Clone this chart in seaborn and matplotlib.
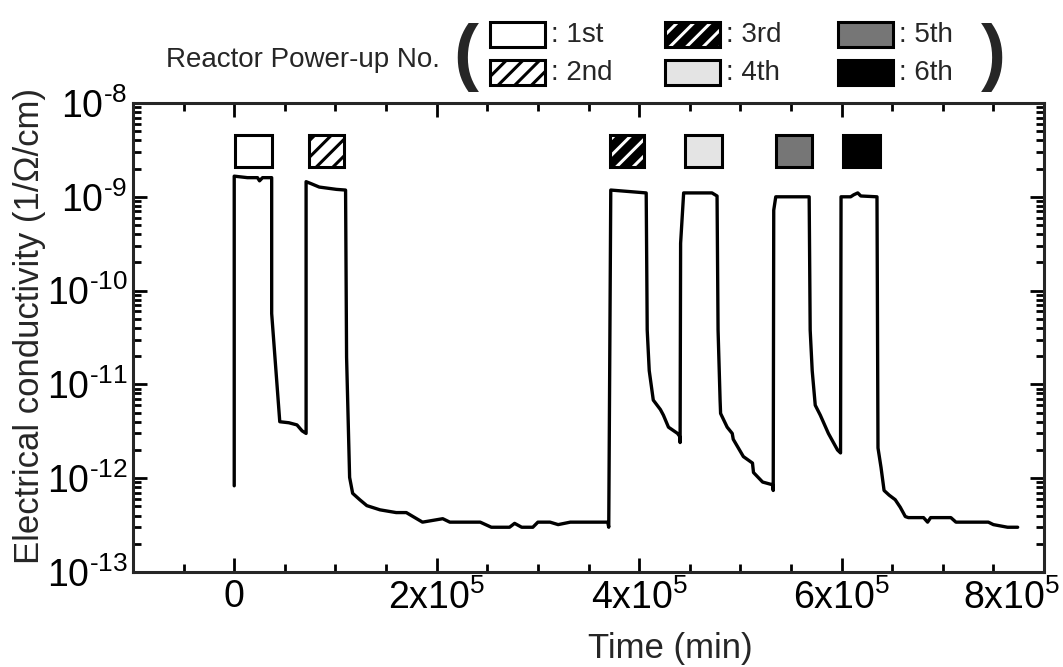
import numpy as np
import pandas as pd
import seaborn as sns
import matplotlib
matplotlib.use("Agg")
import matplotlib.pyplot as plt
import matplotlib.transforms as mtrans
from matplotlib.patches import Rectangle
from matplotlib.ticker import MultipleLocator, LogLocator, NullFormatter

# Conductivity trace (time in min, sigma in 1/Ohm/cm)
time_min = [
    # 1st power-up
    0, 0, 13000, 23000, 25000, 28000, 37000, 37000, 45000, 54000, 62000, 67000, 71000,
    # 2nd power-up and long shutdown
    71000, 76000, 84000, 101000, 110000, 111000, 114000, 117000, 124000, 131000, 144000,
    160000, 170000, 186000, 206000, 213000, 243000, 254000, 272000, 277000, 284000,
    295000, 300000, 312000, 320000, 332000, 369000, 370000,
    # 3rd
    372000, 407000, 408000, 410000, 414000, 421000, 424000, 429000, 438000, 440000, 440500,
    # 4th
    441000, 444000, 472000, 477000, 478000, 480000, 480500, 487000, 492000, 493000,
    503000, 512000, 513000, 522000, 532000, 532500,
    # 5th
    533000, 535000, 568000, 569000, 571000, 574000, 579000, 587000, 596000, 599000,
    # 6th and final shutdown
    599500, 609000, 612000, 616000, 619000, 635000, 636000, 639000, 642000, 647000,
    653000, 658000, 663000, 666000, 681000, 685000, 688000, 708000, 713000, 745000,
    750000, 764000, 774000,
]
sigma = [
    8.3e-13, 1.66e-9, 1.6e-9, 1.6e-9, 1.48e-9, 1.6e-9, 1.6e-9, 5.7e-11, 4.0e-12, 3.9e-12,
    3.7e-12, 3.2e-12, 3.0e-12,
    1.45e-9, 1.38e-9, 1.27e-9, 1.2e-9, 1.18e-9, 1.95e-11, 1.02e-12, 6.9e-13, 5.9e-13,
    5.1e-13, 4.6e-13, 4.3e-13, 4.3e-13, 3.4e-13, 3.7e-13, 3.4e-13, 3.4e-13, 3.0e-13,
    3.0e-13, 3.3e-13, 3.0e-13, 3.0e-13, 3.4e-13, 3.4e-13, 3.2e-13, 3.4e-13, 3.4e-13, 3.0e-13,
    1.18e-9, 1.1e-9, 3.8e-11, 1.4e-11, 6.8e-12, 5.4e-12, 4.7e-12, 3.5e-12, 3.0e-12, 2.8e-12, 2.4e-12,
    3.2e-10, 1.1e-9, 1.1e-9, 1.02e-9, 3.8e-11, 6.8e-12, 4.9e-12, 3.5e-12, 3.0e-12, 2.6e-12,
    1.7e-12, 1.45e-12, 1.15e-12, 9.1e-13, 8.5e-13, 7.4e-13,
    7.2e-10, 1.0e-9, 1.0e-9, 3.8e-11, 1.4e-11, 6.0e-12, 4.7e-12, 3.0e-12, 2.0e-12, 1.86e-12,
    1.0e-9, 1.0e-9, 1.05e-9, 1.1e-9, 1.02e-9, 1.0e-9, 2.1e-12, 1.3e-12, 7.4e-13, 6.6e-13,
    5.9e-13, 4.9e-13, 3.9e-13, 3.8e-13, 3.8e-13, 3.4e-13, 3.8e-13, 3.8e-13, 3.4e-13, 3.4e-13,
    3.2e-13, 3.0e-13, 3.0e-13,
]

# Reactor power-up periods (min)
powerup_labels = ['1st', '2nd', '3rd', '4th', '5th', '6th']
powerup_on = [1000, 74000, 371000, 445000, 535000, 601000]
powerup_off = [37000, 108000, 405000, 482000, 571000, 638000]

x_ticks = [0, 2e5, 4e5, 6e5, 8e5]
x_ticklabels = ['0', '2x10$^{5}$', '4x10$^{5}$', '6x10$^{5}$', '8x10$^{5}$']
y_ticks = [1e-13, 1e-12, 1e-11, 1e-10, 1e-9, 1e-8]
y_ticklabels = ['10$^{\u2010%d}$' % n for n in [13, 12, 11, 10, 9, 8]]

# box styles: (face, hatch, hatch colour)
box_styles = [
    ('white', '', 'black'),
    ('white', '//', 'black'),
    ('black', '//', 'white'),
    ('#e4e4e4', '', 'black'),
    ('#767676', '', 'black'),
    ('black', '', 'black'),
]

sns.set_theme(style='ticks')
plt.rcParams['font.family'] = ['Liberation Sans', 'DejaVu Sans']
plt.rcParams['mathtext.fontset'] = 'custom'
plt.rcParams['mathtext.rm'] = 'Liberation Sans'
plt.rcParams['mathtext.it'] = 'Liberation Sans:italic'
plt.rcParams['hatch.linewidth'] = 2.2
plt.rcParams['axes.linewidth'] = 2.2

W, H = 1063, 667
fig = plt.figure(figsize=(W / 100, H / 100), dpi=100)
ax = fig.add_axes([133 / W, 1 - 572 / H, (1044 - 133) / W, (572 - 103) / H])

df = pd.DataFrame({'time': time_min, 'sigma': sigma})
sns.lineplot(data=df, x='time', y='sigma', sort=False, estimator=None,
             color='black', lw=2.4, ax=ax)

ax.set_yscale('log')
ax.set_xlim(-1e5, 8e5)
ax.set_ylim(1e-13, 1e-8)

# power-up marker boxes
box_lo, box_hi = 2.1e-9, 4.6e-9
for on, off, (fc, hatch, hc) in zip(powerup_on, powerup_off, box_styles):
    ax.bar(on, box_hi - box_lo, width=off - on, bottom=box_lo, align='edge',
           color=fc, hatch=hatch, edgecolor=hc, linewidth=0, zorder=3)
    ax.bar(on, box_hi - box_lo, width=off - on, bottom=box_lo, align='edge',
           fill=False, edgecolor='black', linewidth=2.2, zorder=4)

ax.set_xticks(x_ticks)
ax.set_xticklabels(x_ticklabels)
ax.xaxis.set_minor_locator(MultipleLocator(5e4))
ax.set_yticks(y_ticks)
ax.set_yticklabels(y_ticklabels)
ax.yaxis.set_minor_locator(LogLocator(base=10, subs=np.arange(2, 10)))
ax.yaxis.set_minor_formatter(NullFormatter())
ax.tick_params(which='both', direction='in', top=True, right=True, width=2.0,
               labelsize=27, colors='black')
ax.tick_params(which='major', length=10)
ax.tick_params(which='minor', length=6)
ax.tick_params(axis='x', which='major', pad=5)
ax.tick_params(axis='y', which='major', pad=4)

# last x label sits against the figure edge, as in the original
last = ax.get_xticklabels()[-1]
last.set_ha('right')
last.set_transform(last.get_transform()
                   + mtrans.ScaledTranslation(0.16, 0, fig.dpi_scale_trans))

ax.set_xlabel('Time (min)', fontsize=25)
ax.set_ylabel('Electrical conductivity (1/\u03a9/cm)', fontsize=25)
ax.xaxis.set_label_coords((670 - 133) / 911, -(632 - 572) / 469)
ax.yaxis.set_label_coords(-(133 - 46) / 911, 0.525)

# header legend
fig.text(440 / W, 1 - 60 / H, 'Reactor Power-up No.', fontsize=20,
         ha='right', va='center')
fig.text(466 / W, 1 - 58 / H, '(', fontsize=54, fontweight='bold',
         ha='center', va='center')
fig.text(993 / W, 1 - 58 / H, ')', fontsize=54, fontweight='bold',
         ha='center', va='center')
col_x = [490, 665, 838]
row_y = [22, 60]
for i, (lab, (fc, hatch, hc)) in enumerate(zip(powerup_labels, box_styles)):
    bx = col_x[i // 2]
    by = row_y[i % 2]
    fig.add_artist(Rectangle((bx / W, 1 - (by + 25) / H), 55 / W, 25 / H,
                             transform=fig.transFigure, facecolor=fc,
                             hatch=hatch, edgecolor=hc, linewidth=0))
    fig.add_artist(Rectangle((bx / W, 1 - (by + 25) / H), 55 / W, 25 / H,
                             transform=fig.transFigure, fill=False,
                             edgecolor='black', linewidth=2.2))
    fig.text((bx + 61) / W, 1 - (by + 13) / H, ': ' + lab, fontsize=20,
             ha='left', va='center')

fig.savefig('out.png', dpi=100)
